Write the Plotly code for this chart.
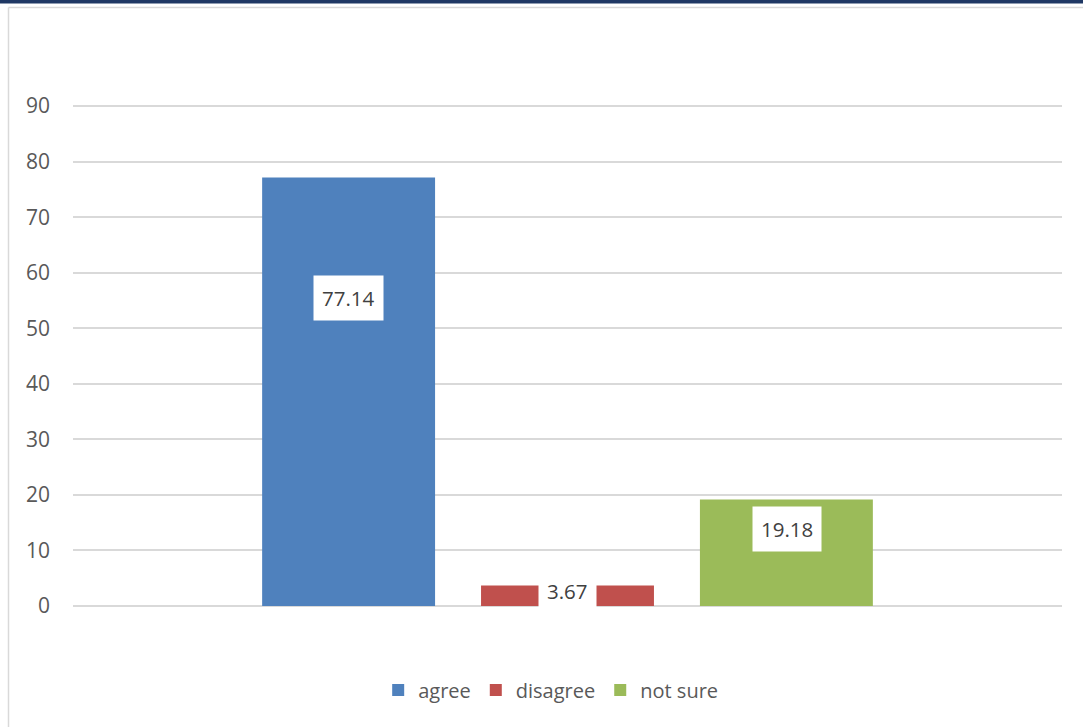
import plotly.graph_objects as go

categories = [""]
series_names = ["agree", "disagree", "not sure"]
series_values = [77.14, 3.67, 19.18]
series_colors = ["#4f81bd", "#c0504d", "#9bbb59"]
tick_vals = [0, 10, 20, 30, 40, 50, 60, 70, 80, 90]

W, H = 1083, 727
L, R, T, B = 73, 21, 105, 121

FONT = "Open Sans"
TXT = "#595959"

fig = go.Figure()
for name, val, col in zip(series_names, series_values, series_colors):
    fig.add_trace(go.Bar(name=name, x=categories, y=[val], marker=dict(color=col, line=dict(width=0)),
                         offsetgroup=name))

# data labels (white boxes), positioned relative to each bar value
n = len(series_names)
for i, (name, val) in enumerate(zip(series_names, series_values)):
    fig.add_annotation(x=0, y=val * 0.72, xref="x", yref="y", text=f"{val:.2f}",
                       showarrow=False, bgcolor="white", borderpad=8,
                       font=dict(family=FONT, size=20.5, color="#404040"),
                       xshift=(i - (n - 1) / 2) * 219)

pw = W - L - R
ph = H - T - B
def px(x):
    return (x - L) / pw
def py(y):
    return (H - B - y) / ph

shapes = [
    dict(type="rect", xref="paper", yref="paper", x0=px(0), x1=px(W), y0=py(3.5), y1=py(0),
         fillcolor="#1f3864", line=dict(width=0), layer="above"),
    dict(type="line", xref="paper", yref="paper", x0=px(8.5), x1=px(W), y0=py(7.5), y1=py(7.5),
         line=dict(color="#d9d9d9", width=1.5)),
    dict(type="line", xref="paper", yref="paper", x0=px(8.5), x1=px(8.5), y0=py(7.5), y1=py(H),
         line=dict(color="#d9d9d9", width=1.5)),
]

fig.update_layout(
    width=W, height=H,
    margin=dict(l=L, r=R, t=T, b=B, pad=0),
    paper_bgcolor="white", plot_bgcolor="white",
    barmode="group", bargap=0.336, bargroupgap=0.21,
    font=dict(family=FONT, size=20, color=TXT),
    showlegend=True,
    legend=dict(orientation="h", x=0.483, xanchor="center", y=py(690), yanchor="middle",
                font=dict(family=FONT, size=20, color=TXT), itemwidth=30,
                traceorder="normal"),
    shapes=shapes,
)
fig.update_xaxes(showticklabels=False, showgrid=False, zeroline=False, showline=False, range=[-0.5, 0.5])
fig.update_yaxes(range=[0, 90.2], tickvals=tick_vals, showgrid=True, gridcolor="#d9d9d9", gridwidth=1.5,
                 zeroline=True, zerolinecolor="#d9d9d9", zerolinewidth=1.5, showline=False,
                 ticklabelstandoff=22, tickfont=dict(family=FONT, size=21, color=TXT))

fig.write_html("out.html")
